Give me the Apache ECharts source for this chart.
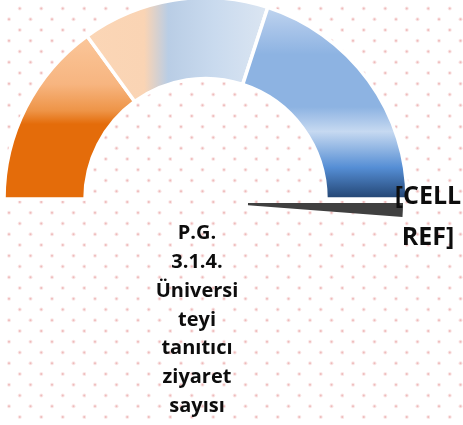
<!DOCTYPE html>
<html>
<head>
<meta charset="UTF-8">
<title></title>
<script src="https://cdn.jsdelivr.net/npm/echarts@6/dist/echarts.min.js"></script>
<style>
html, body { margin: 0; padding: 0; background: #fff; }
#main { width: 463px; height: 425px; }
</style>
</head>
<body>
<div id="main"></div>
<script type="text/javascript">
// gauge bands (share of the half circle), needle position and needle width
var bandValues = [30, 30, 40];
var needleValue = 100;
var needleWidth = 2.4;
var titleLines = ['P.G.', '3.1.4.', 'Üniversi', 'teyi', 'tanıtıcı', 'ziyaret', 'sayısı'];
var needleLabel = ['[CELL', 'REF]'];

var bandTotal = bandValues.reduce(function (a, b) { return a + b; }, 0);

// dotted background tile
var tile = document.createElement('canvas');
tile.width = 86;
tile.height = 86;
var tc = tile.getContext('2d');
tc.fillStyle = '#fff';
tc.fillRect(0, 0, 86, 86);
for (var j = 0; j < 8; j++) {
	var ty = 8.5 + 10.75 * j;
	var tx = j % 2 ? 9 : 19.75;
	for (var i = 0; i < 4; i++) {
		tc.fillStyle = 'rgba(235,160,160,0.25)';
		tc.beginPath();
		tc.arc(tx + 21.5 * i, ty, 2, 0, Math.PI * 2);
		tc.fill();
		tc.fillStyle = 'rgba(225,130,130,0.45)';
		tc.beginPath();
		tc.arc(tx + 21.5 * i, ty, 1, 0, Math.PI * 2);
		tc.fill();
	}
}

function grad(x2, y2, stops) {
	return {
		type: 'linear', x: 0, y: 0, x2: x2, y2: y2,
		colorStops: stops.map(function (s) { return { offset: s[0], color: s[1] }; })
	};
}

var bandColors = [
	grad(0, 1, [[0, '#fbc79b'], [0.3, '#f7b580'], [0.46, '#ee9447'], [0.54, '#e46c0a'], [1, '#e46c0a']]),
	grad(1, 0, [[0, '#fbd6b6'], [0.32, '#fad4b4'], [0.45, '#b9cde5'], [0.7, '#c9daee'], [1, '#dce6f2']]),
	grad(0, 1, [[0, '#c2d6ef'], [0.12, '#a8c4e9'], [0.25, '#8db3e2'], [0.52, '#8db3e2'], [0.645, '#c6d9f1'],
		[0.74, '#8db3e2'], [0.83, '#558ed5'], [1, '#1f3f6b']])
];

var hidden = { color: 'transparent', borderWidth: 0 };

var bandData = bandValues.map(function (v, k) {
	return { value: v, itemStyle: { color: bandColors[k], borderColor: '#fff', borderWidth: 3.5 } };
});
bandData.push({ value: bandTotal, itemStyle: hidden });

var needleData = [
	{ value: needleValue, itemStyle: hidden },
	{ value: needleWidth, itemStyle: { color: '#404040' } },
	{ value: 2 * bandTotal - needleValue - needleWidth, itemStyle: hidden }
];

var myChart = echarts.init(document.getElementById('main'));
var option = {
	backgroundColor: { image: tile, repeat: 'repeat' },
	animation: false,
	series: [{
		type: 'pie',
		silent: true,
		center: [205.5, 199],
		radius: [120.5, 201.5],
		startAngle: 180,
		clockwise: true,
		label: { show: false },
		labelLine: { show: false },
		data: bandData
	}, {
		type: 'pie',
		silent: true,
		center: [218, 203],
		radius: [30, 185],
		startAngle: 180,
		clockwise: true,
		label: { show: false },
		labelLine: { show: false },
		data: needleData
	}],
	graphic: [{
		type: 'text',
		z: 100,
		x: 197,
		y: 219,
		style: {
			text: titleLines.join('\n'),
			align: 'center',
			verticalAlign: 'top',
			fontFamily: 'Open Sans',
			fontWeight: 'bold',
			fontSize: 20,
			lineHeight: 28.8,
			fill: '#0d0d0d'
		}
	}, {
		type: 'text',
		z: 100,
		x: 428,
		y: 176,
		style: {
			text: needleLabel.join('\n'),
			align: 'center',
			verticalAlign: 'top',
			fontFamily: 'Open Sans',
			fontWeight: 'bold',
			fontSize: 25,
			lineHeight: 41,
			fill: '#0d0d0d'
		}
	}]
};
myChart.setOption(option);
</script>
</body>
</html>
